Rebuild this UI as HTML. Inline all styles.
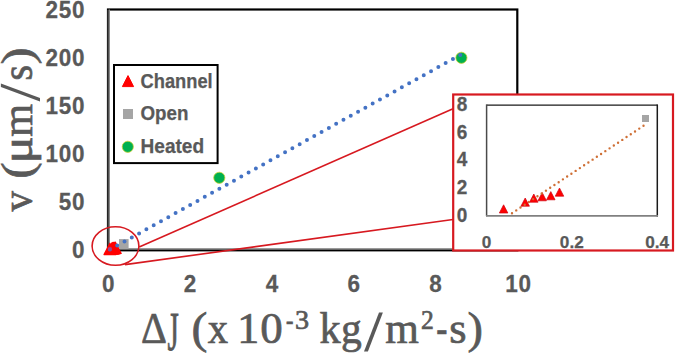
<!DOCTYPE html>
<html><head><meta charset="utf-8">
<style>
html,body{margin:0;padding:0;background:#fff;width:675px;height:353px;overflow:hidden}
svg{display:block}
.lab{font-family:"Liberation Sans",sans-serif;font-weight:bold;fill:#595959;stroke:#595959;stroke-width:0.25px}
.ttl{font-family:"Liberation Serif",serif;fill:#595959;stroke:#595959;stroke-width:0.7px}
</style></head><body>
<svg width="675" height="353" viewBox="0 0 675 353">
<rect width="675" height="353" fill="#fff"/>
<rect x="108" y="9.5" width="409.3" height="240.8" fill="none" stroke="#000" stroke-width="2.2"/>
<line x1="108" y1="10" x2="108" y2="250" stroke="#2a2a2a" stroke-width="1.8"/>
<line x1="109.3" y1="9.5" x2="109.3" y2="250" stroke="#8a8a8a" stroke-width="1.4"/>
<line x1="108" y1="248.8" x2="517" y2="248.8" stroke="#9a9a9a" stroke-width="1.6"/>
<text class="lab" font-size="22.5" text-anchor="end" letter-spacing="0.75" x="85.2" y="258.30" transform="matrix(1 0 0 1.1 0 -25.830)">0</text>
<text class="lab" font-size="22.5" text-anchor="end" letter-spacing="0.75" x="85.2" y="210.18" transform="matrix(1 0 0 1.1 0 -21.018)">50</text>
<text class="lab" font-size="22.5" text-anchor="end" letter-spacing="0.75" x="85.2" y="162.06" transform="matrix(1 0 0 1.1 0 -16.206)">100</text>
<text class="lab" font-size="22.5" text-anchor="end" letter-spacing="0.75" x="85.2" y="113.94" transform="matrix(1 0 0 1.1 0 -11.394)">150</text>
<text class="lab" font-size="22.5" text-anchor="end" letter-spacing="0.75" x="85.2" y="65.82" transform="matrix(1 0 0 1.1 0 -6.582)">200</text>
<text class="lab" font-size="22.5" text-anchor="end" letter-spacing="0.75" x="85.2" y="17.70" transform="matrix(1 0 0 1.1 0 -1.770)">250</text>
<text class="lab" font-size="22.5" text-anchor="middle" x="108.30" y="291.6" transform="matrix(1 0 0 1.1 0 -29.160)">0</text>
<text class="lab" font-size="22.5" text-anchor="middle" x="190.10" y="291.6" transform="matrix(1 0 0 1.1 0 -29.160)">2</text>
<text class="lab" font-size="22.5" text-anchor="middle" x="271.90" y="291.6" transform="matrix(1 0 0 1.1 0 -29.160)">4</text>
<text class="lab" font-size="22.5" text-anchor="middle" x="353.70" y="291.6" transform="matrix(1 0 0 1.1 0 -29.160)">6</text>
<text class="lab" font-size="22.5" text-anchor="middle" x="435.50" y="291.6" transform="matrix(1 0 0 1.1 0 -29.160)">8</text>
<text class="lab" font-size="22.5" text-anchor="middle" letter-spacing="0.75" x="518.57" y="291.6" transform="matrix(1 0 0 1.1 0 -29.160)">10</text>
<g transform="translate(32,0) rotate(-90)">
<text class="ttl" font-size="44" transform="translate(-211.40,0) scale(0.927,1)">v</text>
<text class="ttl" font-size="44" transform="translate(-178.84,0) scale(1.123,1)">(</text>
<text class="ttl" font-size="44" transform="translate(-163.38,0) scale(1.158,1)">μ</text>
<text class="ttl" font-size="44" transform="translate(-136.66,0) scale(0.961,1)">m</text>
<text class="ttl" font-size="44" transform="translate(-80.55,0) scale(0.907,1)">s</text>
<text class="ttl" font-size="44" transform="translate(-64.61,0) scale(1.172,1)">)</text>
</g>
<path d="M0.9,83.5 L40,98.1 L40,101.6 L0.9,87 Z" fill="#595959"/>
<text class="ttl" font-size="44" transform="translate(140.94,342.60) scale(0.916,1.000)">Δ</text>
<text class="ttl" font-size="44" transform="translate(167.55,349.63) scale(0.658,1.240)">J</text>
<text class="ttl" font-size="44" transform="translate(191.41,342.60) scale(1.083,1.000)">(</text>
<text class="ttl" font-size="44" transform="translate(207.80,342.60) scale(0.923,1.000)">x</text>
<text class="ttl" font-size="44" transform="translate(237.36,342.60) scale(1.000,1.000)">1</text>
<text class="ttl" font-size="44" transform="translate(260.19,342.60) scale(1.023,1.000)">0</text>
<text class="ttl" font-size="27.5" transform="translate(286.01,329.00) scale(0.808,1.000)">-</text>
<text class="ttl" font-size="27.5" transform="translate(294.98,329.00) scale(1.026,1.000)">3</text>
<text class="ttl" font-size="44" transform="translate(319.54,342.60) scale(0.962,1.000)">k</text>
<text class="ttl" font-size="44" transform="translate(341.10,342.60) scale(0.943,1.000)">g</text>
<path d="M379,312.5 L382.9,312.5 L367.9,351.4 L364,351.4 Z" fill="#595959"/>
<text class="ttl" font-size="44" transform="translate(385.32,342.60) scale(0.982,1.000)">m</text>
<text class="ttl" font-size="27.5" transform="translate(421.00,329.00) scale(0.931,1.000)">2</text>
<text class="ttl" font-size="44" transform="translate(436.15,342.60) scale(0.762,1.000)">-</text>
<text class="ttl" font-size="44" transform="translate(449.31,342.60) scale(1.011,1.000)">s</text>
<text class="ttl" font-size="44" transform="translate(467.55,342.60) scale(1.052,1.000)">)</text>
<rect x="114" y="65" width="103.6" height="98.1" fill="#fff" stroke="#000" stroke-width="2"/>
<path d="M128,75.6 L133.6,86.6 L122.4,86.6 Z" fill="#f00" stroke="#f00" stroke-width="1" stroke-linejoin="round"/>
<rect x="123" y="109" width="10" height="10" fill="#a5a5a5"/>
<circle cx="127.8" cy="146.8" r="5.6" fill="#00b050" stroke="#d0d030" stroke-width="0.75"/>
<text class="lab" font-size="19.8" x="140.5" y="87.6" textLength="72.2" lengthAdjust="spacingAndGlyphs">Channel</text>
<text class="lab" font-size="19.8" x="140.5" y="120.4" textLength="48" lengthAdjust="spacingAndGlyphs">Open</text>
<text class="lab" font-size="19.8" x="140.5" y="153.3" textLength="63.6" lengthAdjust="spacingAndGlyphs">Heated</text>
<g fill="#f00">
<path d="M109.90,243.20 l5.9,11.4 h-11.8z" stroke="#f00" stroke-width="1.2" stroke-linejoin="round"/>
<path d="M112.00,242.70 l5.9,11.4 h-11.8z" stroke="#f00" stroke-width="1.2" stroke-linejoin="round"/>
<path d="M112.80,242.50 l5.9,11.4 h-11.8z" stroke="#f00" stroke-width="1.2" stroke-linejoin="round"/>
<path d="M113.60,242.40 l5.9,11.4 h-11.8z" stroke="#f00" stroke-width="1.2" stroke-linejoin="round"/>
<path d="M114.50,242.30 l5.9,11.4 h-11.8z" stroke="#f00" stroke-width="1.2" stroke-linejoin="round"/>
<path d="M115.30,242.10 l5.9,11.4 h-11.8z" stroke="#f00" stroke-width="1.2" stroke-linejoin="round"/>
</g>
<rect x="119" y="239.1" width="9.6" height="9.8" fill="#a5a5a5"/>
<circle cx="219.3" cy="177.8" r="5.6" fill="#00b050" stroke="#d0d030" stroke-width="0.75"/>
<circle cx="461.4" cy="57.8" r="5.6" fill="#00b050" stroke="#d0d030" stroke-width="0.75"/>
<line x1="109.9" y1="249.6" x2="461" y2="54.5" stroke="#4472c4" stroke-width="4" stroke-linecap="round" stroke-dasharray="0 8.35"/>
<circle cx="110" cy="248.8" r="2.1" fill="#b03a80" opacity="0.8"/>
<ellipse cx="115.5" cy="246" rx="23.4" ry="19.3" fill="none" stroke="#d71920" stroke-width="1.6"/>
<line x1="139.2" y1="247" x2="453" y2="108.8" stroke="#d71920" stroke-width="1.6"/>
<line x1="125" y1="264.6" x2="453" y2="219.5" stroke="#d71920" stroke-width="1.6"/>
<rect x="453.2" y="94.5" width="219.8" height="156" fill="#fff" stroke="#d71920" stroke-width="2.2"/>
<line x1="486.6" y1="105.1" x2="657.3" y2="105.1" stroke="#1a1a1a" stroke-width="1.4"/>
<line x1="657.3" y1="104.4" x2="657.3" y2="216.6" stroke="#1a1a1a" stroke-width="1.5"/>
<line x1="486.6" y1="104.4" x2="486.6" y2="216.2" stroke="#4a4a4a" stroke-width="1.5"/>
<line x1="486" y1="215.8" x2="658" y2="215.8" stroke="#808080" stroke-width="1.7"/>
<text class="lab" font-size="19" text-anchor="middle" x="462" y="222.00" transform="matrix(1 0 0 1.06 0 -13.320)">0</text>
<text class="lab" font-size="19" text-anchor="middle" x="462" y="194.25" transform="matrix(1 0 0 1.06 0 -11.655)">2</text>
<text class="lab" font-size="19" text-anchor="middle" x="462" y="166.50" transform="matrix(1 0 0 1.06 0 -9.990)">4</text>
<text class="lab" font-size="19" text-anchor="middle" x="462" y="138.75" transform="matrix(1 0 0 1.06 0 -8.325)">6</text>
<text class="lab" font-size="19" text-anchor="middle" x="462" y="111.00" transform="matrix(1 0 0 1.06 0 -6.660)">8</text>
<text class="lab" font-size="17.2" text-anchor="middle" x="486.6" y="247.8">0</text>
<text class="lab" font-size="17.2" text-anchor="middle" x="571.8" y="247.8">0.2</text>
<text class="lab" font-size="17.2" text-anchor="middle" x="657.2" y="247.8">0.4</text>
<g fill="#f00">
<path d="M503.6,204.80 l4.25,8.2 h-8.5z" stroke="#d00010" stroke-width="0.7" stroke-linejoin="round"/>
<path d="M525.2,198.00 l4.25,8.2 h-8.5z" stroke="#d00010" stroke-width="0.7" stroke-linejoin="round"/>
<path d="M533.8,194.00 l4.25,8.2 h-8.5z" stroke="#d00010" stroke-width="0.7" stroke-linejoin="round"/>
<path d="M542.2,192.60 l4.25,8.2 h-8.5z" stroke="#d00010" stroke-width="0.7" stroke-linejoin="round"/>
<path d="M550.8,191.60 l4.25,8.2 h-8.5z" stroke="#d00010" stroke-width="0.7" stroke-linejoin="round"/>
<path d="M559.5,188.00 l4.25,8.2 h-8.5z" stroke="#d00010" stroke-width="0.7" stroke-linejoin="round"/>
</g>
<rect x="642" y="115" width="7" height="7" fill="#a5a5a5"/>
<line x1="512" y1="213.2" x2="643.8" y2="125.6" stroke="#cf6f35" stroke-width="2.4" stroke-linecap="round" stroke-dasharray="0 5.094"/>
</svg>
</body></html>
